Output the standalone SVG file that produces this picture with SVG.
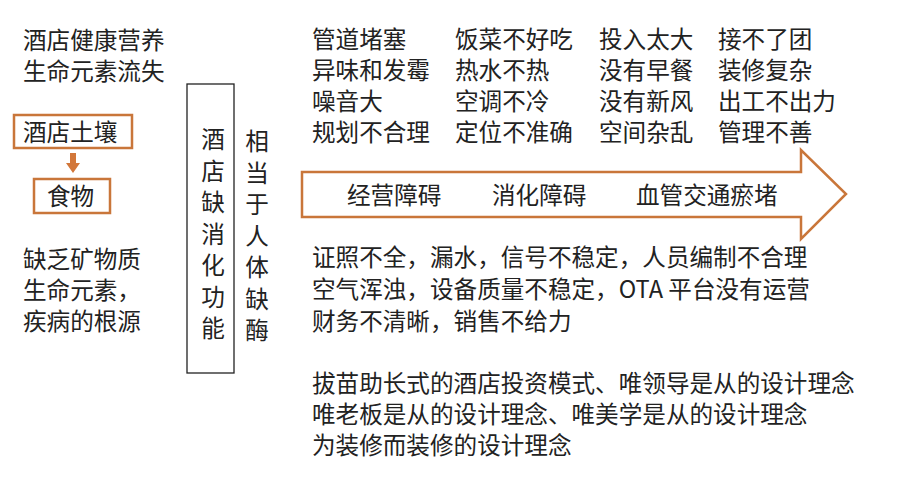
<svg xmlns="http://www.w3.org/2000/svg" width="908" height="503" viewBox="0 0 908 503">
<style>
text{font-family:"Noto Sans CJK SC","Noto Sans",sans-serif;font-size:23.6px;fill:#222;dominant-baseline:central}
.ob{fill:none;stroke:#C9763A;stroke-width:2.5}
.vt{text-anchor:middle}
</style>
<rect width="908" height="503" fill="#ffffff"/>
<g id="left-top">
<text x="23" y="39">酒店健康营养</text>
<text x="23" y="70">生命元素流失</text>
</g>
<g id="soil">
<rect class="ob" x="14" y="115" width="118" height="33"/>
<text x="23" y="131">酒店土壤</text>
</g>
<g id="food">
<rect class="ob" x="34" y="179" width="76" height="34"/>
<text x="47" y="195">食物</text>
</g>
<g id="left-bottom">
<text x="23" y="258">缺乏矿物质</text>
<text x="23" y="289">生命元素，</text>
<text x="23" y="320">疾病的根源</text>
</g>
<g id="connectors">
<polygon points="70,153 76,153 76,163 80,163 73,173 66,163 70,163" fill="#D2773A"/>
</g>
<g id="digestion">
<rect x="187" y="84" width="47" height="289" fill="none" stroke="#222" stroke-width="1.3"/>
<text class="vt" x="213" y="138">酒</text>
<text class="vt" x="213" y="169.5">店</text>
<text class="vt" x="213" y="201">缺</text>
<text class="vt" x="213" y="232.5">消</text>
<text class="vt" x="213" y="264">化</text>
<text class="vt" x="213" y="295.5">功</text>
<text class="vt" x="213" y="327">能</text>
</g>
<g id="enzyme">
<text class="vt" x="257" y="140">相</text>
<text class="vt" x="257" y="171.5">当</text>
<text class="vt" x="257" y="203">于</text>
<text class="vt" x="257" y="234.5">人</text>
<text class="vt" x="257" y="266">体</text>
<text class="vt" x="257" y="297.5">缺</text>
<text class="vt" x="257" y="329">酶</text>
</g>
<g id="problems-grid">
<text x="312" y="38">管道堵塞</text>
<text x="312" y="69">异味和发霉</text>
<text x="312" y="100">噪音大</text>
<text x="312" y="131">规划不合理</text>
<text x="455" y="38">饭菜不好吃</text>
<text x="455" y="69">热水不热</text>
<text x="455" y="100">空调不冷</text>
<text x="455" y="131">定位不准确</text>
<text x="599" y="38">投入太大</text>
<text x="599" y="69">没有早餐</text>
<text x="599" y="100">没有新风</text>
<text x="599" y="131">空间杂乱</text>
<text x="718" y="38">接不了团</text>
<text x="718" y="69">装修复杂</text>
<text x="718" y="100">出工不出力</text>
<text x="718" y="131">管理不善</text>
</g>
<g id="big-arrow">
<polygon class="ob" points="302,172 801,172 801,150 846,194 801,239 801,217 302,217"/>
<text x="347" y="194">经营障碍</text>
<text x="492" y="194">消化障碍</text>
<text x="636" y="194">血管交通瘀堵</text>
</g>
<g id="issues">
<text x="312" y="256">证照不全，漏水，信号不稳定，人员编制不合理</text>
<text x="312" y="288">空气浑浊，设备质量不稳定，OTA 平台没有运营</text>
<text x="312" y="320">财务不清晰，销售不给力</text>
</g>
<g id="concepts">
<text x="312" y="382">拔苗助长式的酒店投资模式、唯领导是从的设计理念</text>
<text x="312" y="413">唯老板是从的设计理念、唯美学是从的设计理念</text>
<text x="312" y="444">为装修而装修的设计理念</text>
</g>
</svg>
